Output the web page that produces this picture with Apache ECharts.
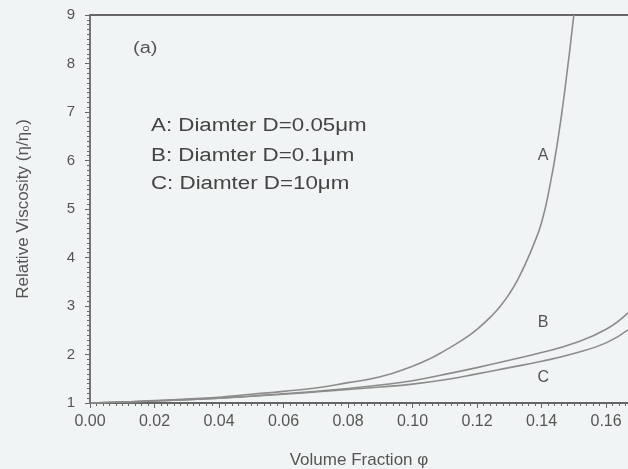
<!DOCTYPE html>
<html><head><meta charset="utf-8">
<script src="https://cdn.jsdelivr.net/npm/echarts@6/dist/echarts.min.js"></script>
<style>html,body{margin:0;padding:0;background:#f1f4f4}#c{width:628px;height:469px}</style>
</head><body><div id="c"></div>
<script>
const phiA = [0,0.01,0.02,0.03,0.04,0.05,0.06,0.07,0.08,0.09,0.10,0.105,0.11,0.115,0.12,0.125,0.1275,0.13,0.1325,0.135,0.1375,0.14,0.1425,0.145,0.1475,0.15];
const etaA = [1,1.02,1.05,1.08,1.12,1.18,1.24,1.31,1.42,1.54,1.76,1.90,2.08,2.28,2.52,2.83,3.02,3.25,3.53,3.87,4.26,4.72,5.45,6.4,7.6,9.0];
const phiBC = [0,0.02,0.04,0.06,0.08,0.09,0.10,0.11,0.12,0.13,0.14,0.15,0.16,0.1668];
const etaB = [1,1.04,1.1,1.19,1.30,1.37,1.46,1.59,1.73,1.88,2.04,2.23,2.52,2.86];
const etaC = [1,1.04,1.1,1.18,1.28,1.33,1.39,1.48,1.60,1.73,1.86,2.02,2.24,2.51];
const curveLabels = ['A','B','C'];
const curveLabelPos = [[0.1405,6.1],[0.1405,2.65],[0.1405,1.52]];
const legendLines = ['A: Diamter D=0.05\u03bcm','B: Diamter D=0.1\u03bcm','C: Diamter D=10\u03bcm'];
const panelTag = '(a)';
const xName = 'Volume Fraction \u03c6';
const yName = 'Relative Viscosity (\u03b7/\u03b7\u2080)';

const font = 'Liberation Sans, Arial, sans-serif';
const lineCol = '#8c8c8c';
const axisCol = '#666';
const textCol = '#555';

function mk(xs, ys){ return xs.map((x,i)=>[x, ys[i]]); }
function series(name, data, i){
  return {
    name, type:'line', data, smooth:0.5, showSymbol:false, clip:true,
    lineStyle:{color:lineCol, width:1.6},
    markPoint:{symbol:'circle', symbolSize:0, silent:true,
      data:[{coord:curveLabelPos[i], label:{show:true, formatter:curveLabels[i], color:textCol, fontSize:16, fontFamily:font}}]}
  };
}
const chart = echarts.init(document.getElementById('c'));
chart.setOption({
  backgroundColor:'#f1f4f4',
  animation:false,
  grid:{left:90, top:15, right:0, bottom:66, containLabel:false, outerBoundsMode:'none'},
  xAxis:[{
    type:'value', min:0, max:0.1668, interval:0.02,
    name:xName, nameLocation:'middle', nameGap:49,
    nameTextStyle:{color:textCol, fontSize:17, fontFamily:font},
    axisLine:{show:true, lineStyle:{color:axisCol, width:1.8}},
    axisTick:{show:true, length:5, lineStyle:{color:axisCol}},
    minorTick:{show:true, splitNumber:10, length:3, lineStyle:{color:axisCol}},
    splitLine:{show:false},
    axisLabel:{color:textCol, fontSize:16, fontFamily:font, margin:11, showMaxLabel:false,
      formatter:v=>v.toFixed(2)}
  },{
    type:'value', position:'top', min:0, max:0.1668,
    axisLine:{show:true, lineStyle:{color:axisCol, width:1.8}},
    axisTick:{show:false}, axisLabel:{show:false}, splitLine:{show:false}
  }],
  yAxis:{
    type:'value', min:1, max:9, interval:1,
    name:yName, nameLocation:'middle', nameGap:58, nameRotate:90,
    nameTextStyle:{color:textCol, fontSize:17, fontFamily:font},
    axisLine:{show:true, lineStyle:{color:axisCol, width:1.8}},
    axisTick:{show:true, length:5, lineStyle:{color:axisCol}},
    minorTick:{show:true, splitNumber:10, length:3, lineStyle:{color:axisCol}},
    splitLine:{show:false},
    axisLabel:{color:textCol, fontSize:15, fontFamily:font, margin:15}
  },
  graphic:[
    {type:'text', x:133, y:41, scaleX:1.25, style:{text:panelTag, fill:textCol, font:'16px '+font}},
    ...legendLines.map((t,i)=>({type:'text', x:151, y:[117,147,175][i], scaleX:1.24,
      style:{text:t, fill:'#444', font:'18px '+font}}))
  ],
  series:[
    series('A', mk(phiA, etaA), 0),
    series('B', mk(phiBC, etaB), 1),
    series('C', mk(phiBC, etaC), 2)
  ]
});
</script></body></html>
